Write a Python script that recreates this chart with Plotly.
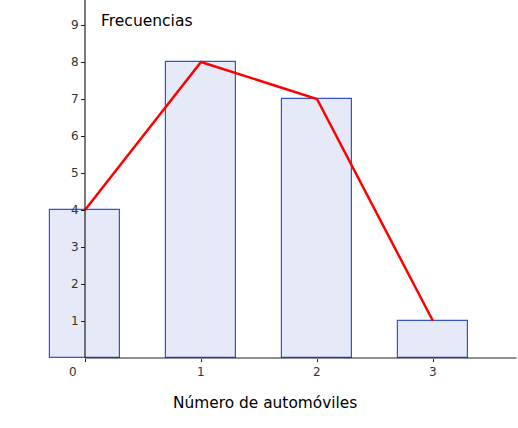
import plotly.graph_objects as go

categories = [0, 1, 2, 3]
frecuencias = [4, 8, 7, 1]
x_ticks = [0, 1, 2, 3]
y_ticks = [1, 2, 3, 4, 5, 6, 7, 8, 9]

W, H = 518, 428
FONT = "DejaVu Sans"

fig = go.Figure()
fig.add_trace(go.Bar(
    x=categories, y=frecuencias, width=0.6,
    marker=dict(color="#e6e9f8", line=dict(color="#3355cc", width=1.2)),
    showlegend=False, hoverinfo="skip",
))
fig.add_trace(go.Scatter(
    x=categories, y=frecuencias, mode="lines",
    line=dict(color="#ff0000", width=2.5),
    showlegend=False, hoverinfo="skip",
))

# axis lines (positive quadrant only)
fig.add_shape(type="line", xref="x", yref="paper", x0=0, x1=0, y0=0, y1=1,
              line=dict(color="#222222", width=1.2), layer="above")
fig.add_shape(type="line", xref="x", yref="paper", x0=0, x1=3.72, y0=0, y1=0,
              line=dict(color="#222222", width=1.2), layer="above")

# x tick labels (0 shifted left of the y axis, as in the original)
for v in x_ticks:
    fig.add_annotation(x=v, y=0, xref="x", yref="paper", text=str(v),
                       showarrow=False, yanchor="top", yshift=-5,
                       xshift=-12 if v == 0 else 0,
                       font=dict(family=FONT, size=12, color="#333333"))

x0px = 85
fig.update_layout(
    width=W, height=H,
    margin=dict(l=0, r=0, t=0, b=70),
    paper_bgcolor="white", plot_bgcolor="white",
    bargap=0,
    xaxis=dict(range=[-x0px / 116, (W - x0px) / 116], showgrid=False, zeroline=False,
               showline=False, tickmode="array", tickvals=x_ticks, ticktext=["" for _ in x_ticks],
               ticks="outside", ticklen=3, tickcolor="#222222", fixedrange=True),
    yaxis=dict(range=[0, 358 / 37], showgrid=False, zeroline=False, showline=False,
               anchor="free", position=x0px / W,
               tickmode="array", tickvals=y_ticks, ticks="outside", ticklen=4,
               tickcolor="#222222",
               tickfont=dict(family=FONT, size=12, color="#333333"), fixedrange=True),
    annotations=list(fig.layout.annotations) + [
        dict(x=99 / W, y=1 - 21 / 358, xref="paper", yref="paper", text="Frecuencias",
             showarrow=False, xanchor="left", yanchor="middle",
             font=dict(family=FONT, size=15.5, color="#000000")),
        dict(x=265 / W, y=-(403 - 358) / 358, xref="paper", yref="paper",
             text="Número de automóviles", showarrow=False, xanchor="center", yanchor="middle",
             font=dict(family=FONT, size=15.4, color="#000000")),
    ],
)

fig.write_html("out.html")
